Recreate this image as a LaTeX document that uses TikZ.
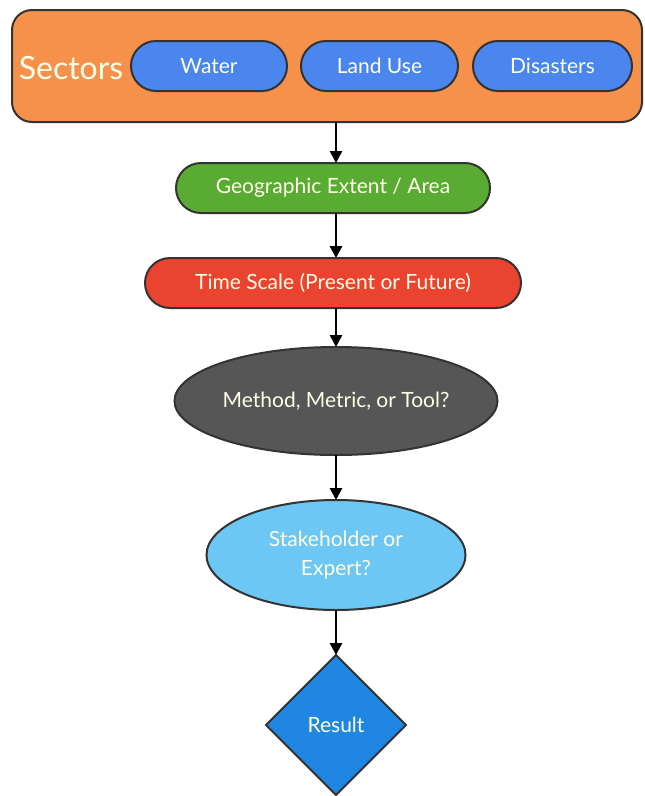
\documentclass[tikz,border=0pt]{standalone}
\usepackage{fontspec}
\setmainfont{Lato}
\usetikzlibrary{positioning,shapes.geometric,arrows.meta}

\definecolor{sectororange}{HTML}{F5914A}
\definecolor{sectorblue}{HTML}{4A86EE}
\definecolor{extentgreen}{HTML}{5AAB34}
\definecolor{timered}{HTML}{EA4430}
\definecolor{methodgray}{HTML}{565656}
\definecolor{expertblue}{HTML}{6CC7F4}
\definecolor{resultblue}{HTML}{1F87E2}
\definecolor{edgegray}{HTML}{333333}

\tikzset{
  box/.style={draw=edgegray, line width=2pt, inner sep=0pt, outer sep=0pt,
    text=white!90!yellow, font=\fontsize{21}{29}\selectfont, align=center},
  pill/.style={box, rounded corners=25pt, minimum height=50pt},
  flow/.style={-{Triangle[length=12pt,width=12pt]}, line width=2.8pt, black}
}

\begin{document}
\begin{tikzpicture}[x=1pt,y=1pt]
        \newcommand{\flowx}{336}
        \useasboundingbox (0,0) rectangle (645,-796);
        % sectors
        \node[box, fill=sectororange, rounded corners=20pt,
          minimum width=630pt, minimum height=112pt] (sectors) at (327,-66) {};
        \node[text=white!90!yellow, font=\fontsize{32}{36}\selectfont] (sectorslabel) at (71,-68) {Sectors};
        \node[pill, fill=sectorblue, minimum width=156pt] (water) at (209,-66) {Water};
        \node[pill, fill=sectorblue, minimum width=157pt] (landuse) at (379.5,-66) {Land Use};
        \node[pill, fill=sectorblue, minimum width=159pt] (disasters) at (552.5,-66) {Disasters};

        % flow
        \node[pill, fill=extentgreen, minimum width=314pt] (extent) at (333,-188) {Geographic Extent / Area};
        \node[pill, fill=timered, minimum width=376pt, below=45pt of extent] (timescale) {Time Scale (Present or Future)};
        \node[box, ellipse, fill=methodgray, minimum width=323pt, minimum height=108pt]
          (method) at (\flowx,-401) {Method, Metric, or Tool?};
        \node[box, ellipse, fill=expertblue, minimum width=259pt, minimum height=110pt,
          below=45pt of method] (expert) {Stakeholder or\\Expert?};
        \node[box, diamond, fill=resultblue, minimum width=140pt, minimum height=140pt,
          below=45pt of expert] (result) {Result};

        \draw[flow] (sectors.south -| \flowx,0) -- (extent.north -| \flowx,0);
        \draw[flow] (extent.south -| \flowx,0) -- (timescale.north -| \flowx,0);
        \draw[flow] (timescale.south -| \flowx,0) -- (method.north);
        \draw[flow] (method) -- (expert);
        \draw[flow] (expert) -- (result);
    \end{tikzpicture}
\end{document}
